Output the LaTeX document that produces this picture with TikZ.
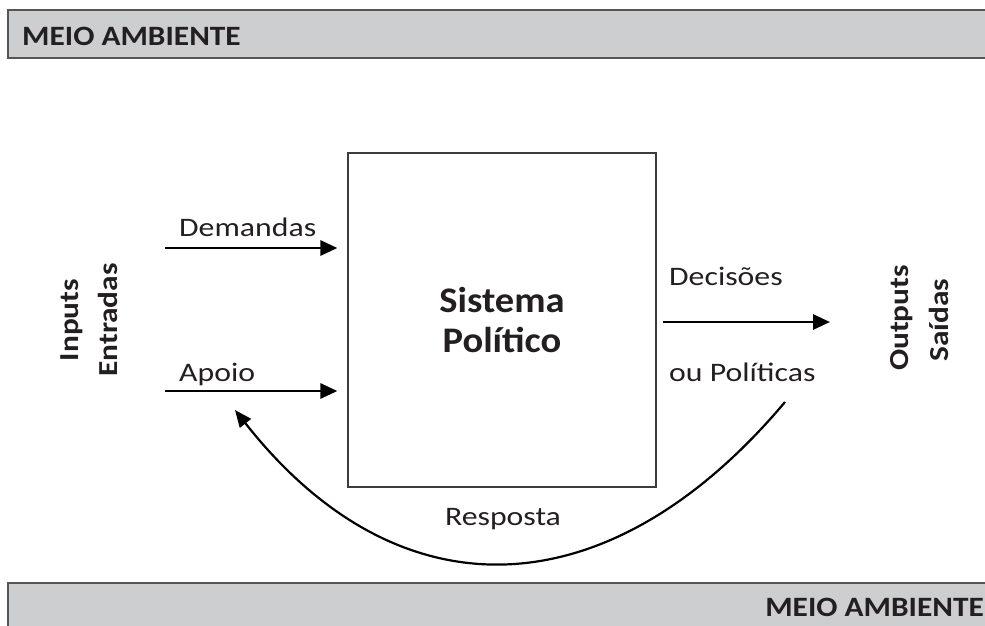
\documentclass[tikz,border=0pt]{standalone}
\usepackage{fontspec}
\setmainfont{Carlito}
\newfontfamily\regwide{Carlito}[FakeStretch=1.19]
\newfontfamily\boldwide{Carlito}[FakeStretch=1.14]
\newfontfamily\bandfont{Carlito}[FakeStretch=1.12]
\newfontfamily\sysfont{Carlito}[FakeStretch=1.07]
\usetikzlibrary{arrows.meta}
\definecolor{bandgray}{RGB}{205,206,208}
\definecolor{bandline}{RGB}{85,85,85}
\definecolor{boxline}{RGB}{60,60,60}
\definecolor{txt}{RGB}{35,31,32}
\begin{document}
\begin{tikzpicture}[x=1pt,y=-1pt,
  bandtext/.style={font=\bandfont\fontsize{28}{30}\selectfont\bfseries,text=txt,inner sep=0pt},
  lbl/.style={font=\regwide\fontsize{26.7}{30}\selectfont,text=txt,inner sep=0pt},
  side/.style={font=\boldwide\fontsize{27.5}{30}\selectfont\bfseries,text=txt,rotate=90,inner sep=0pt,anchor=base},
  flow/.style={line width=2.8pt,-{Triangle[length=17pt,width=15pt]}},
  back/.style={line width=2.2pt,-{Triangle[length=17pt,width=14pt]}}]
\useasboundingbox (0,0) rectangle (985,626);
% bands
\path[fill=bandgray] (8,10) rectangle (995,58);
\draw[bandline,line width=1.4pt] (995,10) -- (8,10) -- (8,58) -- (995,58);
\path[fill=bandgray] (8,583) rectangle (995,640);
\draw[bandline,line width=1.4pt] (995,583) -- (8,583) -- (8,640);
\node[bandtext,anchor=base west] (mt) at (22,46) {MEIO AMBIENTE};
\node[bandtext,anchor=base east] (mb) at (984,616) {MEIO AMBIENTE};
% system box
\node[draw=boxline,line width=1.2pt,minimum width=308pt,minimum height=334pt,
  font=\sysfont\fontsize{36}{40}\selectfont\bfseries,text=txt,align=center] (sys) at (502,320) {Sistema\\Político};
% side labels
\node[side] (in1) at (78,320) {Inputs};
\node[side] (in2) at (117,320) {Entradas};
\node[side] (out1) at (908,318) {Outputs};
\node[side] (out2) at (948,320) {Saídas};
% inputs
\coordinate (d0) at (165,248);
\coordinate (a0) at (165,391);
\draw[flow,shorten >=10pt] (d0) -- (d0 -| sys.west);
\draw[flow,shorten >=10pt] (a0) -- (a0 -| sys.west);
\node[lbl,anchor=base west] (dem) at (179,236) {Demandas};
\node[lbl,anchor=base west] (apo) at (179,381) {Apoio};
% outputs
\coordinate (o1) at (830,322);
\draw[flow,shorten <=6pt] (sys.east |- o1) -- (o1);
\node[lbl,anchor=base west] (dec) at (669,285) {Decisões};
\node[lbl,anchor=base west] (pol) at (669,381) {ou Políticas};
% feedback
\coordinate (f0) at (785,402);
\coordinate (f1) at (235,410);
\draw[back] (f0) .. controls (610,610) and (400,620) .. (f1);
\node[lbl,anchor=base] (resp) at (503,525) {Resposta};
\end{tikzpicture}
\end{document}
